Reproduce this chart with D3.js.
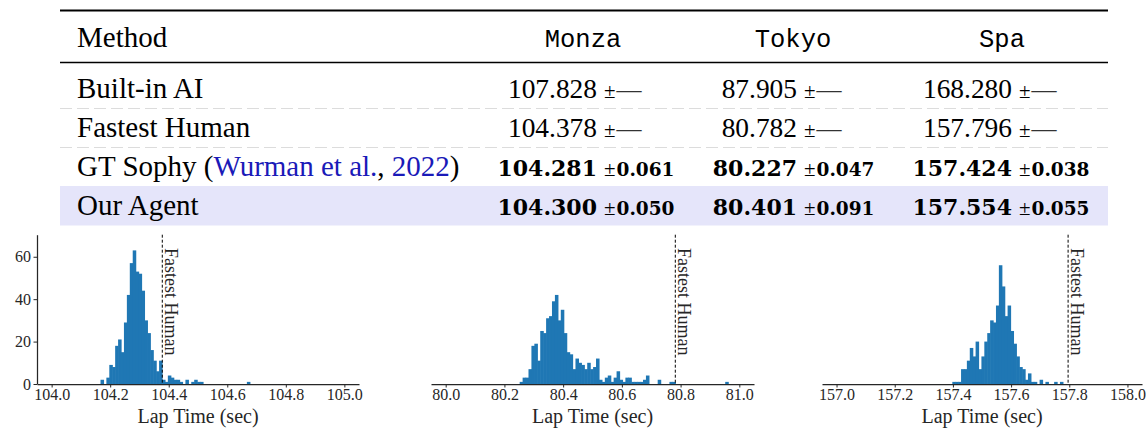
<!DOCTYPE html>
<html><head><meta charset="utf-8">
<script src="https://cdn.jsdelivr.net/npm/d3@7"></script>
<style>
body{margin:0;background:#fff;}
svg{display:block;}
</style></head><body>
<svg id="chart" width="1146" height="428"></svg>
<script>
// ---------- table data ----------
const tracks = ["Monza", "Tokyo", "Spa"];
const methods = ["Built-in AI", "Fastest Human", "GT Sophy", "Our Agent"];
const monzaTimes = [107.828, 104.378, 104.281, 104.300];
const tokyoTimes = [87.905, 80.782, 80.227, 80.401];
const spaTimes = [168.280, 157.796, 157.424, 157.554];
const monzaStd = [null, null, 0.061, 0.050];
const tokyoStd = [null, null, 0.047, 0.091];
const spaStd = [null, null, 0.038, 0.055];
const boldRows = [false, false, true, true];

// ---------- histogram data (bin counts, 0.01 s bins) ----------
const binWidth = 0.01;
const monzaBinStart = 104.167;
const monzaCounts = [2,0,3,9,8,18,21,15,29,42,57,63,53,52,44,30,24,16,11,6,11,
  2,1,4,3,2,2,1,0,2,0,1,2,1,1,
  0,0,0,0,0,0,0,0,0,0,0,0,0,0,0,1];
const tokyoBinStart = 80.252;
const tokyoCounts = [1,3,3,7,18,19,11,25,24,31,32,39,42,30,35,24,15,14,7,12,10,9,7,10,7,8,12,
  2,1,3,4,1,3,6,2,1,3,3,1,1,1,1,2,4,
  0,0,0,2,0,0,0,1,1,
  0,0,0,0,0,0,0,0,0,0,0,0,0,0,0,0,0,1];
const spaBinStart = 157.398;
const spaCounts = [1,1,1,7,7,11,17,13,20,7,13,20,24,30,29,37,56,46,32,37,25,19,13,8,7,2,5,1,1,0,2,0,1,0,0,1,0,1];
const fastestHuman = [104.378, 80.782, 157.796];
const monzaTicks = [104.0, 104.2, 104.4, 104.6, 104.8, 105.0];
const tokyoTicks = [80.0, 80.2, 80.4, 80.6, 80.8, 81.0];
const spaTicks = [157.0, 157.2, 157.4, 157.6, 157.8, 158.0];
const yTicks = [0, 20, 40, 60];

// ---------- drawing ----------
const svg = d3.select("#chart");
const serif = "'Liberation Serif','Times New Roman',serif";
const boldSerif = "'DejaVu Serif',serif";
const mono = "'Liberation Mono','Courier New',monospace";
const ink = "#262626";

// table layout
const tLeft = 60, tRight = 1108;
const headerBase = 47;
const rowBase = [98, 137, 176, 214.5];
const valueEnd = [597, 797, 1012];
const colCenter = [583, 793, 1002];
const times = [monzaTimes, tokyoTimes, spaTimes];
const stds = [monzaStd, tokyoStd, spaStd];

svg.append("rect").attr("x", tLeft).attr("y", 186).attr("width", tRight - tLeft).attr("height", 39.5)
  .attr("fill", "#e5e5fa");
svg.append("line").attr("x1", tLeft).attr("x2", tRight).attr("y1", 10.5).attr("y2", 10.5)
  .attr("stroke", "#000").attr("stroke-width", 2);
svg.append("line").attr("x1", tLeft).attr("x2", tRight).attr("y1", 62.5).attr("y2", 62.5)
  .attr("stroke", "#000").attr("stroke-width", 1.3);
[108.5, 147.5].forEach(yy => {
  svg.append("line").attr("x1", tLeft).attr("x2", tRight).attr("y1", yy).attr("y2", yy)
    .attr("stroke", "#dcdcdc").attr("stroke-width", 1).attr("stroke-dasharray", "12,5");
});

svg.append("text").attr("x", 77).attr("y", headerBase).attr("font-family", serif)
  .attr("font-size", 29).attr("fill", "#000").text("Method");
svg.selectAll("text.track").data(tracks).join("text").attr("class", "track")
  .attr("x", (d, i) => colCenter[i]).attr("y", headerBase).attr("text-anchor", "middle")
  .attr("font-family", mono).attr("font-size", 25.5).attr("fill", "#000").text(d => d);

methods.forEach((m, r) => {
  const t = svg.append("text").attr("x", 77).attr("y", rowBase[r]).attr("font-family", serif)
    .attr("font-size", 29).attr("fill", "#000");
  if (m === "GT Sophy") {
    t.append("tspan").text("GT Sophy (");
    t.append("tspan").attr("fill", "#1a1ab8").text("Wurman et al.");
    t.append("tspan").text(", ");
    t.append("tspan").attr("fill", "#1a1ab8").text("2022");
    t.append("tspan").text(")");
  } else {
    t.text(m);
  }
  tracks.forEach((tr, c) => {
    const bold = boldRows[r];
    svg.append("text").attr("x", valueEnd[c]).attr("y", rowBase[r]).attr("text-anchor", "end")
      .attr("font-family", bold ? boldSerif : serif).attr("font-size", bold ? 22 : 27.4)
      .attr("font-weight", bold ? "bold" : "normal").attr("fill", "#000")
      .text(times[c][r].toFixed(3));
    const s = svg.append("text").attr("x", valueEnd[c] + 7).attr("y", rowBase[r])
      .attr("font-family", serif).attr("fill", "#000");
    s.append("tspan").attr("font-size", 21).text("±");
    const sd = stds[c][r];
    if (sd === null) {
      s.append("tspan").attr("font-size", 25).attr("dx", 1).attr("fill", "#333").text("—");
    } else {
      s.append("tspan").attr("font-family", boldSerif).attr("font-size", 18.5).attr("font-weight", "bold")
        .attr("dx", 1).text(sd.toFixed(3));
    }
  });
});

// histograms
const yScale = d3.scaleLinear().domain([0, 70.4]).range([384, 234.7]);
const panels = [
  {counts: monzaCounts, start: monzaBinStart, ticks: monzaTicks, domain: [103.95, 105.05], range: [37, 359], human: fastestHuman[0], yAxis: true},
  {counts: tokyoCounts, start: tokyoBinStart, ticks: tokyoTicks, domain: [79.95, 81.05], range: [431, 754], human: fastestHuman[1], yAxis: false},
  {counts: spaCounts, start: spaBinStart, ticks: spaTicks, domain: [156.95, 158.05], range: [822, 1142], human: fastestHuman[2], yAxis: false}
];

panels.forEach(p => {
  const x = d3.scaleLinear().domain(p.domain).range(p.range);
  const g = svg.append("g");
  const bins = p.counts.map((c, i) => ({x0: p.start + i * binWidth, x1: p.start + (i + 1) * binWidth, c}))
    .filter(b => b.c > 0);
  g.selectAll("rect").data(bins).join("rect")
    .attr("x", b => x(b.x0)).attr("width", b => x(b.x1) - x(b.x0) + 0.6)
    .attr("y", b => yScale(b.c)).attr("height", b => yScale(0) - yScale(b.c))
    .attr("fill", "#1f77b4");
  const hx = x(p.human);
  g.append("line").attr("x1", hx).attr("x2", hx).attr("y1", yScale(70.4)).attr("y2", yScale(0))
    .attr("stroke", "#000").attr("stroke-width", 1).attr("stroke-dasharray", "3,2");
  g.append("text").attr("transform", `translate(${hx + 3},248) rotate(90)`)
    .attr("font-family", serif).attr("font-size", 18).attr("fill", ink).text("Fastest Human");

  const ax = g.append("g").attr("transform", "translate(0,384)")
    .call(d3.axisBottom(x).tickValues(p.ticks).tickSize(3.5).tickSizeOuter(0).tickPadding(1.5)
      .tickFormat(d3.format(".1f")));
  ax.attr("font-family", serif).attr("font-size", 16);
  ax.select(".domain").attr("stroke", ink).attr("stroke-width", 1.25);
  ax.selectAll(".tick line").attr("stroke", ink).attr("stroke-width", 1);
  ax.selectAll(".tick text").attr("font-family", serif).attr("font-size", 16).attr("fill", ink);

  if (p.yAxis) {
    const ay = g.append("g").attr("transform", `translate(${p.range[0]},0)`)
      .call(d3.axisLeft(yScale).tickValues(yTicks).tickSize(3.5).tickSizeOuter(0).tickPadding(2.5));
    ay.attr("font-family", serif).attr("font-size", 16);
    ay.select(".domain").attr("stroke", ink).attr("stroke-width", 1.25);
    ay.selectAll(".tick line").attr("stroke", ink);
    ay.selectAll(".tick text").attr("font-family", serif).attr("font-size", 16).attr("fill", ink);
  }
  g.append("text").attr("x", (p.range[0] + p.range[1]) / 2).attr("y", 423).attr("text-anchor", "middle")
    .attr("font-family", serif).attr("font-size", 20).attr("fill", ink).text("Lap Time (sec)");
});
</script>
</body></html>
